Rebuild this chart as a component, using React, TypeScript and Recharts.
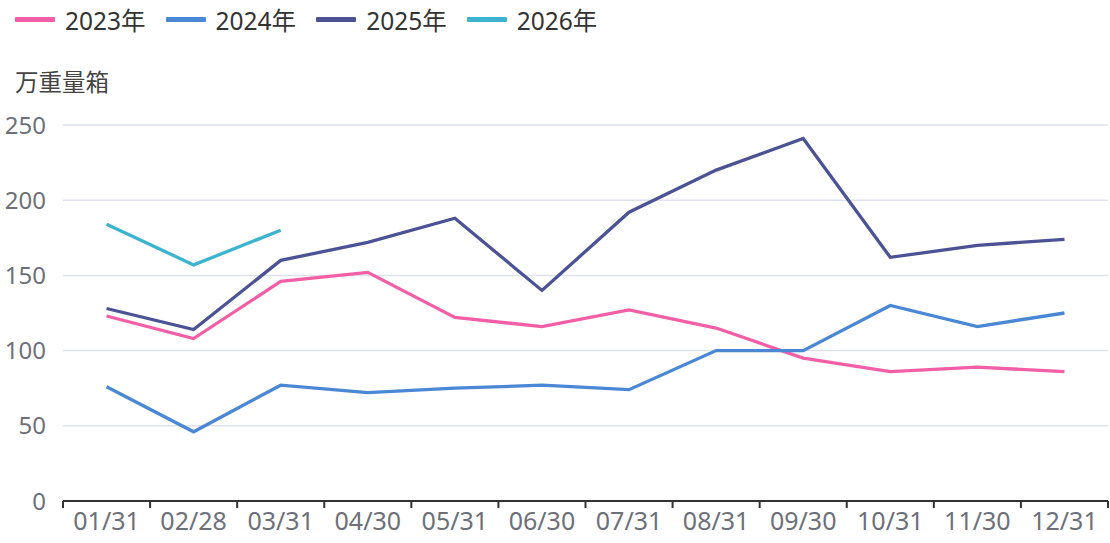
import { LineChart, Line, XAxis, YAxis, CartesianGrid } from 'recharts'

const categories = ['01/31', '02/28', '03/31', '04/30', '05/31', '06/30', '07/31', '08/31', '09/30', '10/31', '11/30', '12/31']
const y2023 = [123, 108, 146, 152, 122, 116, 127, 115, 95, 86, 89, 86]
const y2024 = [76, 46, 77, 72, 75, 77, 74, 100, 100, 130, 116, 125]
const y2025 = [128, 114, 160, 172, 188, 140, 192, 220, 241, 162, 170, 174]
const y2026 = [184, 157, 180]
const yTicks = [0, 50, 100, 150, 200, 250]

const series = [
  { key: 'y2023', name: '2023年', color: '#f35fa6' },
  { key: 'y2024', name: '2024年', color: '#4a88d5' },
  { key: 'y2025', name: '2025年', color: '#4c5395' },
  { key: 'y2026', name: '2026年', color: '#3cb4cf' },
]

const data = categories.map((c, i) => ({
  x: i,
  y2023: y2023[i],
  y2024: y2024[i],
  y2025: y2025[i],
  y2026: i < y2026.length ? y2026[i] : null,
}))

const centerTicks = categories.map((_, i) => i)
const edgeTicks = [...categories.map((_, i) => i - 0.5), categories.length - 0.5]

const font = '"Noto Sans", "Noto Sans CJK SC", sans-serif'

// legend + unit label drawn as an overlay so it doesn't push the plot down
function LegendBox() {
  return (
    <div style={{ position: 'absolute', left: 15, top: 2, fontFamily: font, zIndex: 2 }}>
      <div style={{ display: 'flex', alignItems: 'center', height: 34 }}>
        {series.map((s) => (
          <div key={s.key} style={{ display: 'flex', alignItems: 'center', marginRight: 20 }}>
            <div style={{ width: 40, height: 5, background: s.color, marginRight: 10, borderRadius: 1 }} />
            <span style={{ fontSize: 24.5, color: '#333' }}>{s.name}</span>
          </div>
        ))}
      </div>
      <div style={{ fontSize: 23.5, color: '#444', marginTop: 28 }}>万重量箱</div>
    </div>
  )
}

export default function App() {
  return (
    <div style={{ position: 'absolute', left: 0, top: 0, width: 1110, height: 543, background: '#fff' }}>
      <LegendBox />
      <LineChart width={1110} height={543} data={data} margin={{ top: 125, right: 2, bottom: 0, left: 0 }}>
        <CartesianGrid vertical={false} stroke="#dfe2ec" strokeWidth={1.5} />
        {/* id 0 is laid out first, right under the plot: axis line + boundary ticks */}
        <XAxis
          xAxisId={0}
          type="number"
          dataKey="x"
          domain={[-0.5, categories.length - 0.5]}
          ticks={edgeTicks}
          interval={0}
          tickFormatter={() => ''}
          tickSize={7}
          height={1}
          tickLine={{ stroke: '#333', strokeWidth: 2 }}
          axisLine={{ stroke: '#333', strokeWidth: 2 }}
        />
        <XAxis
          xAxisId="lab"
          type="number"
          dataKey="x"
          domain={[-0.5, categories.length - 0.5]}
          ticks={centerTicks}
          interval={0}
          tickFormatter={(v: number) => categories[v]}
          axisLine={false}
          tickLine={false}
          tickSize={0}
          tickMargin={10}
          height={41}
          tick={{ fill: '#6e7079', fontSize: 25, fontFamily: font }}
        />
        <YAxis
          width={63}
          domain={[0, 250]}
          ticks={yTicks}
          axisLine={false}
          tickLine={false}
          tickSize={0}
          tickMargin={17}
          tick={{ fill: '#6e7079', fontSize: 24, fontFamily: font }}
        />
        {series.map((s) => (
          <Line
            key={s.key}
            xAxisId={0}
            dataKey={s.key}
            name={s.name}
            stroke={s.color}
            strokeWidth={3.3}
            dot={false}
            activeDot={false}
            isAnimationActive={false}
            connectNulls={false}
          />
        ))}
      </LineChart>
    </div>
  )
}
